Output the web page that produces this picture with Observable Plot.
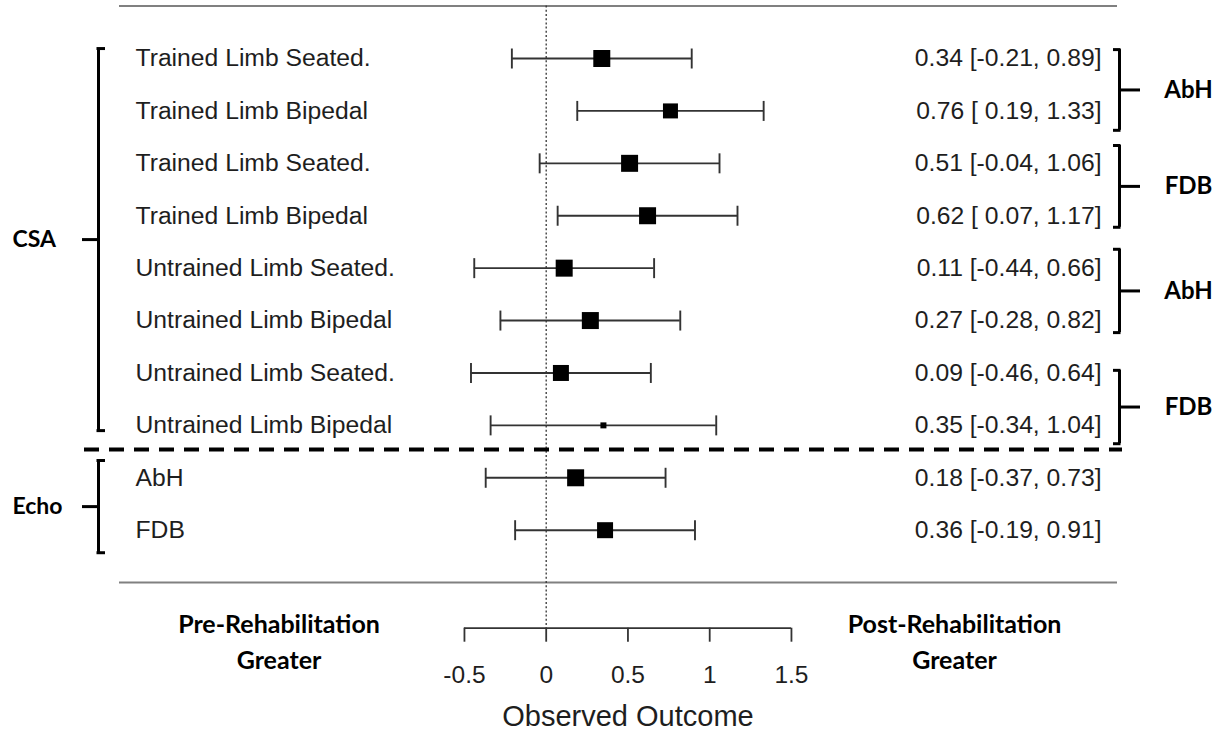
<!DOCTYPE html>
<html><head><meta charset="utf-8">
<script src="https://cdn.jsdelivr.net/npm/d3@7"></script>
<script src="https://cdn.jsdelivr.net/npm/@observablehq/plot@0.6"></script>
<style>body{margin:0;background:#fff}</style>
</head><body><div id="chart"></div>
<script>
// ---- data ----
const labels = ["Trained Limb Seated.", "Trained Limb Bipedal", "Trained Limb Seated.", "Trained Limb Bipedal",
  "Untrained Limb Seated.", "Untrained Limb Bipedal", "Untrained Limb Seated.", "Untrained Limb Bipedal", "AbH", "FDB"];
const estimates = [0.34, 0.76, 0.51, 0.62, 0.11, 0.27, 0.09, 0.35, 0.18, 0.36];
const lower = [-0.21, 0.19, -0.04, 0.07, -0.44, -0.28, -0.46, -0.34, -0.37, -0.19];
const upper = [0.89, 1.33, 1.06, 1.17, 0.66, 0.82, 0.64, 1.04, 0.73, 0.91];
const weightMarker = [17, 15, 17, 17, 17, 17, 16, 6, 17, 16]; // marker side (from study weight)
const tickValues = [-0.5, 0, 0.5, 1, 1.5];
const tickLabels = ["-0.5", "0", "0.5", "1", "1.5"];
const leftGroupNames = ["CSA", "Echo"];
const leftGroupFirst = [1, 9];
const leftGroupLast = [8, 10];
const rightGroupNames = ["AbH", "FDB", "AbH", "FDB"];
const rightGroupFirst = [1, 3, 5, 7];
const rightGroupLast = [2, 4, 6, 8];
const axisTitle = "Observed Outcome";
const favoursLeft = "Pre-Rehabilitation\nGreater";
const favoursRight = "Post-Rehabilitation\nGreater";

// ---- layout ----
const W = 1228, H = 735;
const zeroPx = 545.7, unitPx = 163.5;
const yMax = 11.87;          // row position of the x axis line
const leftPad = [[0.19, 0.10], [0.33, 0.43]];
const rightPad = [[0.17, 0.37], [0.34, 0.22], [0.36, 0.23], [0.05, 0.35]];
const cx = W / 2;

const rows = labels.map((label, i) => ({
  row: i + 1, label, est: estimates[i], lo: lower[i], hi: upper[i],
  r: weightMarker[i] / Math.sqrt(Math.PI),
  ci: `${estimates[i].toFixed(2)} [${lower[i] >= 0 ? " " : ""}${lower[i].toFixed(2)}, ${upper[i].toFixed(2)}]`
}));
const leftGroups = leftGroupNames.map((name, i) => {
  const top = leftGroupFirst[i] - leftPad[i][0], bottom = leftGroupLast[i] + leftPad[i][1];
  return {name, top, bottom, mid: (top + bottom) / 2};
});
const rightGroups = rightGroupNames.map((name, i) => {
  const top = rightGroupFirst[i] - rightPad[i][0], bottom = rightGroupLast[i] + rightPad[i][1];
  return {name, top, bottom, mid: (top + bottom) / 2};
});

const whisker = {draw(ctx, size) { const h = Math.sqrt(size / Math.PI); ctx.moveTo(0, -h); ctx.lineTo(0, h); }};

const sans = "Liberation Sans, Arial, sans-serif";
const bold = "Lato, Calibri, sans-serif";
const ink = "#1e1e1e";
const barInk = "#333";

const lb = 98, rb = 1119;

const chart = Plot.plot({
  width: W, height: H,
  marginLeft: 0, marginRight: 0, marginTop: 5.6, marginBottom: H - 627.7,
  style: {fontFamily: sans, background: "#fff", color: ink},
  x: {domain: [-zeroPx / unitPx, (W - zeroPx) / unitPx]},
  y: {domain: [0, yMax], reverse: true, axis: null},
  r: {type: "identity"},
  marks: [
    // top and bottom frame lines
    Plot.ruleY([0, leftGroupLast[1] + 1], {insetLeft: 119, insetRight: W - 1117, stroke: "#808080", strokeWidth: 2}),
    // reference line at 0
    Plot.ruleX([0], {y1: 0, y2: yMax, stroke: "#333", strokeWidth: 1.3, strokeDasharray: "2,2.2"}),
    // separator
    Plot.ruleY([(leftGroupLast[0] + leftGroupFirst[1]) / 2], {dy: -2, insetLeft: 84, insetRight: W - 1122, stroke: "#000", strokeWidth: 4, strokeDasharray: "15,10"}),
    // x axis
    Plot.ruleY([yMax], {x1: tickValues[0], x2: tickValues[tickValues.length - 1], stroke: barInk, strokeWidth: 1.8}),
    Plot.axisX(tickValues, {anchor: "bottom", tickSize: 14, tickPadding: 23, fontSize: 24.5, stroke: barInk, strokeWidth: 1.8,
      tickFormat: (d, i) => tickLabels[i], fill: ink, label: null}),
    Plot.text([axisTitle], {x: (tickValues[0] + tickValues[tickValues.length - 1]) / 2, frameAnchor: "bottom", dy: 89,
      lineAnchor: "middle", fontSize: 29, fill: ink, fontFamily: sans}),
    Plot.text([favoursLeft], {frameAnchor: "bottom-left", dx: 278.5, dy: 11, textAnchor: "middle", lineAnchor: "middle",
      lineHeight: 1.45, fontSize: 25, fontWeight: 700, fontFamily: bold, fill: "#000"}),
    Plot.text([favoursRight], {frameAnchor: "bottom-left", dx: 954, dy: 11, textAnchor: "middle", lineAnchor: "middle",
      lineHeight: 1.45, fontSize: 25, fontWeight: 700, fontFamily: bold, fill: "#000"}),
    // CI lines and whiskers
    Plot.ruleY(rows, {y: "row", x1: "lo", x2: "hi", stroke: barInk, strokeWidth: 1.9}),
    Plot.dot(rows, {x: "lo", y: "row", symbol: whisker, r: 10, stroke: barInk, strokeWidth: 1.9, fill: "none"}),
    Plot.dot(rows, {x: "hi", y: "row", symbol: whisker, r: 10, stroke: barInk, strokeWidth: 1.9, fill: "none"}),
    // point estimates
    Plot.dot(rows, {x: "est", y: "row", r: "r", symbol: "square", fill: "#000", stroke: "none"}),
    // row labels and CI text
    Plot.text(rows, {y: "row", text: "label", frameAnchor: "left", dx: 135, textAnchor: "start", fontSize: 24.7, fill: ink}),
    Plot.text(rows, {y: "row", text: "ci", frameAnchor: "right", dx: -127, textAnchor: "end", fontSize: 24.7, fill: ink}),
    // left brackets
    Plot.ruleX(leftGroups, {x: null, y1: "top", y2: "bottom", dx: lb - cx, stroke: "#000", strokeWidth: 3}),
    Plot.ruleY(leftGroups, {y: "top", insetLeft: lb - 1.5, insetRight: W - (lb + 7), stroke: "#000", strokeWidth: 3}),
    Plot.ruleY(leftGroups, {y: "bottom", insetLeft: lb - 1.5, insetRight: W - (lb + 7), stroke: "#000", strokeWidth: 3}),
    Plot.ruleY(leftGroups, {y: "mid", insetLeft: 82, insetRight: W - lb, stroke: "#000", strokeWidth: 3}),
    Plot.text(leftGroups, {y: "mid", text: "name", frameAnchor: "left", dx: 12, textAnchor: "start",
      fontSize: 23, fontWeight: 700, fontFamily: bold, fill: "#000"}),
    // right brackets
    Plot.ruleX(rightGroups, {x: null, y1: "top", y2: "bottom", dx: rb - cx, stroke: "#000", strokeWidth: 3}),
    Plot.ruleY(rightGroups, {y: "top", insetLeft: rb - 6, insetRight: W - (rb + 1.5), stroke: "#000", strokeWidth: 3}),
    Plot.ruleY(rightGroups, {y: "bottom", insetLeft: rb - 6, insetRight: W - (rb + 1.5), stroke: "#000", strokeWidth: 3}),
    Plot.ruleY(rightGroups, {y: "mid", insetLeft: rb, insetRight: W - 1140, stroke: "#000", strokeWidth: 3}),
    Plot.text(rightGroups, {y: "mid", text: "name", frameAnchor: "right", dx: 1188 - W, textAnchor: "middle",
      fontSize: 24, fontWeight: 700, fontFamily: bold, fill: "#000"})
  ]
});
document.getElementById("chart").appendChild(chart);
</script>
</body></html>
